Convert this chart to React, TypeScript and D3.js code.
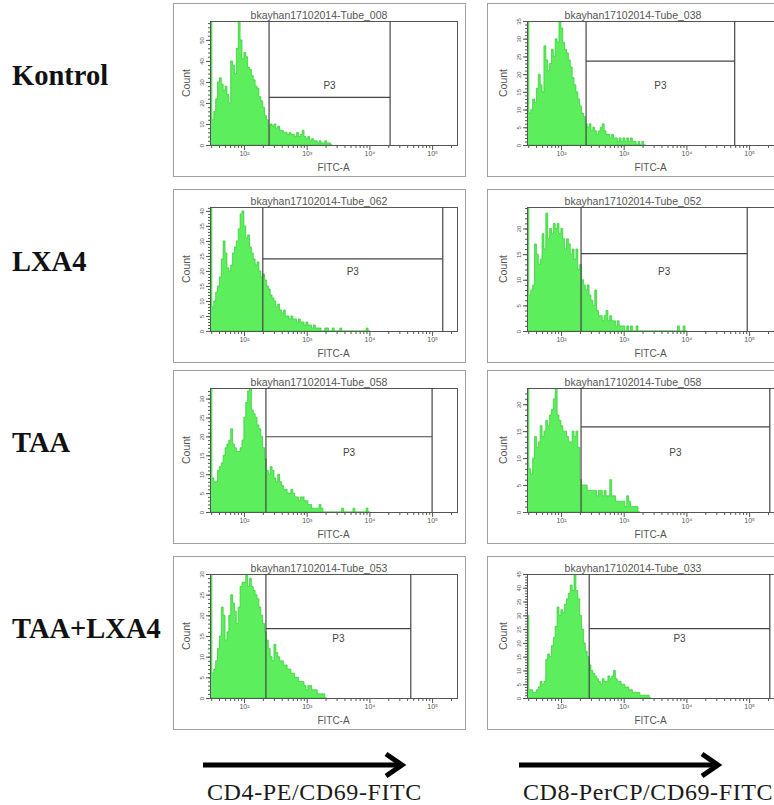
import React, { useRef, useEffect } from "react";
import * as d3 from "d3";

// row / column labels
const rowLabels = ["Kontrol", "LXA4", "TAA", "TAA+LXA4"];
const markerLabels = ["CD4-PE/CD69-FITC", "CD8-PerCP/CD69-FITC"];

// panels in reading order: (Kontrol CD4, Kontrol CD8, LXA4 CD4, ...)
const panelTitles = [
  "bkayhan17102014-Tube_008",
  "bkayhan17102014-Tube_038",
  "bkayhan17102014-Tube_062",
  "bkayhan17102014-Tube_052",
  "bkayhan17102014-Tube_058",
  "bkayhan17102014-Tube_058",
  "bkayhan17102014-Tube_053",
  "bkayhan17102014-Tube_033",
];

// y axis (Count)
const yMax = [59, 35, 41.3, 24.2, 32.8, 23, 30, 45];
const yTickStep = [10, 5, 5, 5, 5, 5, 5, 5];
const yTickTop = [50, 35, 40, 20, 30, 20, 30, 45];

// P3 gate, FITC-A in log10 units, count level of the bar
const gateLow = [2.4, 2.4, 2.3, 2.32, 2.35, 2.32, 2.35, 2.45];
const gateHigh = [4.33, 4.77, 5.17, 4.97, 5.0, 5.33, 4.66, 5.33];
const gateCount = [22.7, 23.7, 24, 15.1, 19.9, 15.8, 16.8, 25.2];

// x axis, log10 FITC-A
const xLogMin = 1.458;
const xLogMax = 5.397;
const decades = [2, 3, 4, 5];
const decadeLabels = ["10²", "10³", "10⁴", "10⁵"];

// histogram bins start at the axis minimum, each one 0.03 log10 wide
const binWidth = 0.03;

const kontrolCD4 = [80, 12, 16, 22, 30, 32, 29, 26, 28, 24, 20, 40, 38, 34, 46, 59, 50, 41, 44, 42, 37, 36, 33, 31, 28, 27, 23, 21, 18, 14, 12, 9, 10, 9, 10, 8, 9, 7, 7, 6, 6, 5, 6, 5, 5, 4, 6, 4, 5, 7, 4, 3, 4, 2, 3, 2, 2, 1, 2, 1, 1, 2, 1, 1, 0];
const kontrolCD8 = [60, 9, 10, 13, 12, 16, 20, 17, 15, 28, 24, 21, 23, 27, 25, 30, 29, 35, 33, 29, 27, 26, 24, 22, 19, 17, 15, 13, 11, 9, 8, 6, 5, 6, 4, 5, 4, 3, 4, 5, 6, 4, 3, 3, 2, 3, 2, 2, 1, 2, 1, 2, 1, 2, 1, 2, 1, 1, 0, 1, 0, 1, 0];
const lxa4CD4 = [60, 8, 10, 13, 15, 18, 24, 30, 26, 21, 20, 22, 26, 28, 30, 34, 39, 40, 35, 31, 32, 28, 26, 24, 22, 23, 20, 18, 19, 17, 15, 14, 12, 11, 10, 8, 9, 7, 6, 7, 5, 5, 4, 5, 4, 4, 3, 4, 3, 3, 2, 3, 2, 2, 1, 2, 1, 1, 1, 0, 0, 1, 1, 0, 0, 1, 0, 0, 0, 1, 0, 0, 0, 0, 0, 0, 0, 0, 0, 0, 0, 0, 0, 1, 0];
const lxa4CD8 = [40, 7, 8, 9, 17, 15, 13, 14, 19, 16, 23, 18, 20, 19, 21, 20, 21, 19, 20, 18, 16, 18, 17, 15, 16, 14, 16, 12, 13, 10, 9, 8, 9, 7, 6, 5, 8, 4, 3, 3, 2, 3, 4, 2, 3, 2, 2, 1, 2, 1, 1, 1, 0, 1, 0, 1, 0, 0, 1, 0, 0, 0, 0, 0, 0, 0, 0, 0, 0, 0, 0, 0, 0, 0, 0, 0, 0, 0, 0, 0, 1, 0, 0, 1, 0];
const taaCD4 = [50, 9, 8, 8, 11, 12, 13, 15, 17, 18, 19, 22, 18, 17, 16, 16, 17, 19, 25, 29, 32, 33, 27, 26, 25, 23, 22, 20, 17, 14, 11, 10, 12, 11, 9, 8, 10, 8, 7, 6, 6, 5, 5, 6, 5, 4, 4, 3, 4, 4, 3, 3, 2, 2, 1, 1, 1, 1, 2, 1, 0, 0, 0, 0, 0, 0, 0, 0, 0, 0, 1, 0, 0, 0, 0, 0, 1, 0, 0, 0, 0, 0, 0, 1, 0];
const taaCD8 = [40, 8, 7, 10, 14, 12, 13, 16, 14, 15, 17, 16, 18, 19, 21, 23, 18, 17, 16, 15, 15, 14, 13, 13, 15, 14, 15, 12, 6, 5, 5, 5, 4, 4, 4, 4, 4, 3, 4, 4, 3, 4, 3, 3, 6, 3, 3, 2, 2, 2, 2, 2, 1, 3, 2, 1, 1, 1, 1, 0];
const taaLxa4CD4 = [50, 6, 7, 9, 12, 15, 22, 20, 14, 16, 20, 25, 23, 21, 18, 22, 27, 28, 28, 30, 27, 29, 27, 26, 25, 24, 22, 20, 18, 16, 14, 12, 10, 9, 13, 11, 10, 9, 9, 8, 8, 7, 7, 6, 6, 5, 5, 4, 4, 4, 3, 2, 3, 3, 2, 2, 2, 1, 1, 1, 1, 0];
const taaLxa4CD8 = [30, 3, 3, 2, 2, 3, 4, 6, 5, 6, 14, 16, 15, 19, 22, 26, 33, 30, 32, 31, 34, 36, 38, 41, 39, 45, 39, 36, 30, 25, 20, 17, 15, 12, 10, 9, 8, 7, 6, 5, 7, 6, 6, 8, 7, 8, 10, 7, 6, 6, 5, 5, 4, 4, 3, 3, 2, 2, 2, 2, 1, 1, 1, 1, 1, 0];

const panelCounts = [kontrolCD4, kontrolCD8, lxa4CD4, lxa4CD8, taaCD4, taaCD8, taaLxa4CD4, taaLxa4CD8];

const App = () => {
  const ref = useRef(null);

  useEffect(() => {
    const width = 774;
    const height = 805;
    const svg = d3.select(ref.current).attr("width", width).attr("height", height);
    svg.selectAll("*").remove();

    svg.append("rect").attr("width", width).attr("height", height).attr("fill", "#fff");

    const outerLeft = [173, 487];
    const plotLeft = [210, 527];
    const outerTop = [3, 189, 370, 556];
    const pw = 247;
    const ph = 124;
    const defs = svg.append("defs");

    // row labels
    rowLabels.forEach((t, r) => {
      svg
        .append("text")
        .attr("x", 12)
        .attr("y", outerTop[r] + 82)
        .attr("font-family", "Liberation Serif, Times New Roman, serif")
        .attr("font-weight", "bold")
        .attr("font-size", "28.5px")
        .attr("fill", "#111")
        .text(t);
    });

    panelCounts.forEach((data, k) => {
      const r = Math.floor(k / 2);
      const c = k % 2;
      const ox = outerLeft[c];
      const oy = outerTop[r];
      const px = plotLeft[c];
      const py = oy + 18;
      const base = py + ph;
      const g = svg.append("g").attr("font-family", "Liberation Sans, Arial, sans-serif");

      g.append("rect")
        .attr("x", ox + 0.5)
        .attr("y", oy + 0.5)
        .attr("width", 292)
        .attr("height", 173)
        .attr("fill", "#fff")
        .attr("stroke", "#a0a0a0");

      const x = d3.scaleLog().domain([10 ** xLogMin, 10 ** xLogMax]).range([px, px + pw]);
      const y = d3.scaleLinear().domain([0, yMax[k]]).range([base, py]);

      const clipId = `clip${k}`;
      defs
        .append("clipPath")
        .attr("id", clipId)
        .append("rect")
        .attr("x", px)
        .attr("y", py)
        .attr("width", pw)
        .attr("height", ph);

      // histogram
      const bins = data.map((v, i) => ({ lo: 10 ** (xLogMin + i * binWidth), v }));
      bins.push({ lo: 10 ** (xLogMin + data.length * binWidth), v: 0 });
      const area = d3
        .area()
        .x((d) => x(d.lo))
        .y0(base)
        .y1((d) => y(d.v))
        .curve(d3.curveStepAfter);
      g.append("path")
        .datum(bins)
        .attr("d", area)
        .attr("fill", "#5cee5c")
        .attr("stroke", "#2ccc2c")
        .attr("stroke-width", 0.7)
        .attr("clip-path", `url(#${clipId})`);

      // plot frame
      g.append("rect")
        .attr("x", px + 0.5)
        .attr("y", py + 0.5)
        .attr("width", pw)
        .attr("height", ph)
        .attr("fill", "none")
        .attr("stroke", "#555");

      // P3 gate
      const gl = x(10 ** gateLow[k]);
      const gh = x(10 ** gateHigh[k]);
      const gy = y(gateCount[k]);
      const gate = g.append("g").attr("stroke", "#444").attr("stroke-width", 1.2).attr("fill", "none");
      gate.append("line").attr("x1", gl).attr("x2", gl).attr("y1", py).attr("y2", base);
      gate.append("line").attr("x1", gh).attr("x2", gh).attr("y1", py).attr("y2", base);
      gate.append("line").attr("x1", gl).attr("x2", gh).attr("y1", gy).attr("y2", gy);
      g.append("text")
        .attr("x", (gl + gh) / 2)
        .attr("y", py + 68)
        .attr("text-anchor", "middle")
        .attr("font-size", "10px")
        .attr("fill", "#444")
        .text("P3");

      // x axis: minor and decade ticks
      const minor = [];
      for (let d = 1; d <= 5; d++) {
        for (let m = 2; m <= 9; m++) {
          const v = m * 10 ** d;
          if (v >= 10 ** xLogMin && v <= 10 ** xLogMax) minor.push(v);
        }
      }
      const xMinor = g.append("g").attr("transform", `translate(0,${base})`).call(
        d3.axisBottom(x).tickValues(minor).tickSize(3).tickFormat(() => "")
      );
      const xMajor = g.append("g").attr("transform", `translate(0,${base})`).call(
        d3
          .axisBottom(x)
          .tickValues(decades.map((d) => 10 ** d))
          .tickSize(5)
          .tickPadding(1)
          .tickFormat((_, i) => decadeLabels[i])
      );
      [xMinor, xMajor].forEach((a) => {
        a.select(".domain").remove();
        a.selectAll("line").attr("stroke", "#555");
      });
      xMajor.selectAll("text").attr("font-size", "7px").attr("fill", "#555").attr("font-family", "Liberation Sans, Arial, sans-serif");

      // y axis
      const majorY = d3.range(0, yTickTop[k] + 0.01, yTickStep[k]);
      const minorY = d3.range(0, yMax[k], yTickStep[k] / 5);
      const yMinor = g.append("g").attr("transform", `translate(${px},0)`).call(
        d3.axisLeft(y).tickValues(minorY).tickSize(2).tickFormat(() => "")
      );
      const yMajor = g.append("g").attr("transform", `translate(${px},0)`).call(
        d3.axisLeft(y).tickValues(majorY).tickSize(4)
      );
      [yMinor, yMajor].forEach((a) => {
        a.select(".domain").remove();
        a.selectAll("line").attr("stroke", "#555");
      });
      yMajor
        .selectAll("text")
        .attr("x", null)
        .attr("dy", null)
        .attr("text-anchor", "middle")
        .attr("transform", "translate(-6,0) rotate(-90)")
        .attr("font-size", "6px")
        .attr("fill", "#555")
        .attr("font-family", "Liberation Sans, Arial, sans-serif");

      // titles
      g.append("text")
        .attr("x", ox + 146)
        .attr("y", py - 2)
        .attr("text-anchor", "middle")
        .attr("font-size", "10.5px")
        .attr("fill", "#555")
        .text(panelTitles[k]);
      g.append("text")
        .attr("x", px + pw / 2)
        .attr("y", base + 26)
        .attr("text-anchor", "middle")
        .attr("font-size", "10px")
        .attr("fill", "#555")
        .text("FITC-A");
      g.append("text")
        .attr("transform", `translate(${px - 20},${py + ph / 2}) rotate(-90)`)
        .attr("text-anchor", "middle")
        .attr("font-size", "10.5px")
        .attr("fill", "#555")
        .text("Count");
    });

    // arrows and marker labels under each column
    const arrowStart = [203, 519];
    const arrowLen = 199;
    markerLabels.forEach((t, c) => {
      const a = svg.append("g").attr("stroke", "#000").attr("stroke-width", 5).attr("fill", "none");
      const x0 = arrowStart[c];
      const x1 = x0 + arrowLen;
      a.append("line").attr("x1", x0).attr("x2", x1 - 2).attr("y1", 765).attr("y2", 765);
      a.append("polyline")
        .attr("points", `${x1 - 16},754 ${x1},765 ${x1 - 16},776`)
        .attr("stroke-linejoin", "miter");
      svg
        .append("text")
        .attr("x", x0 + 4)
        .attr("y", 800)
        .attr("font-family", "Liberation Serif, Times New Roman, serif")
        .attr("font-size", "24px")
        .attr("letter-spacing", "0.6px")
        .attr("fill", "#1a1a1a")
        .text(t);
    });

    return () => {
      d3.select(ref.current).selectAll("*").remove();
    };
  }, []);

  return <svg ref={ref} style={{ position: "absolute", left: 0, top: 0 }}></svg>;
};

export default App;
